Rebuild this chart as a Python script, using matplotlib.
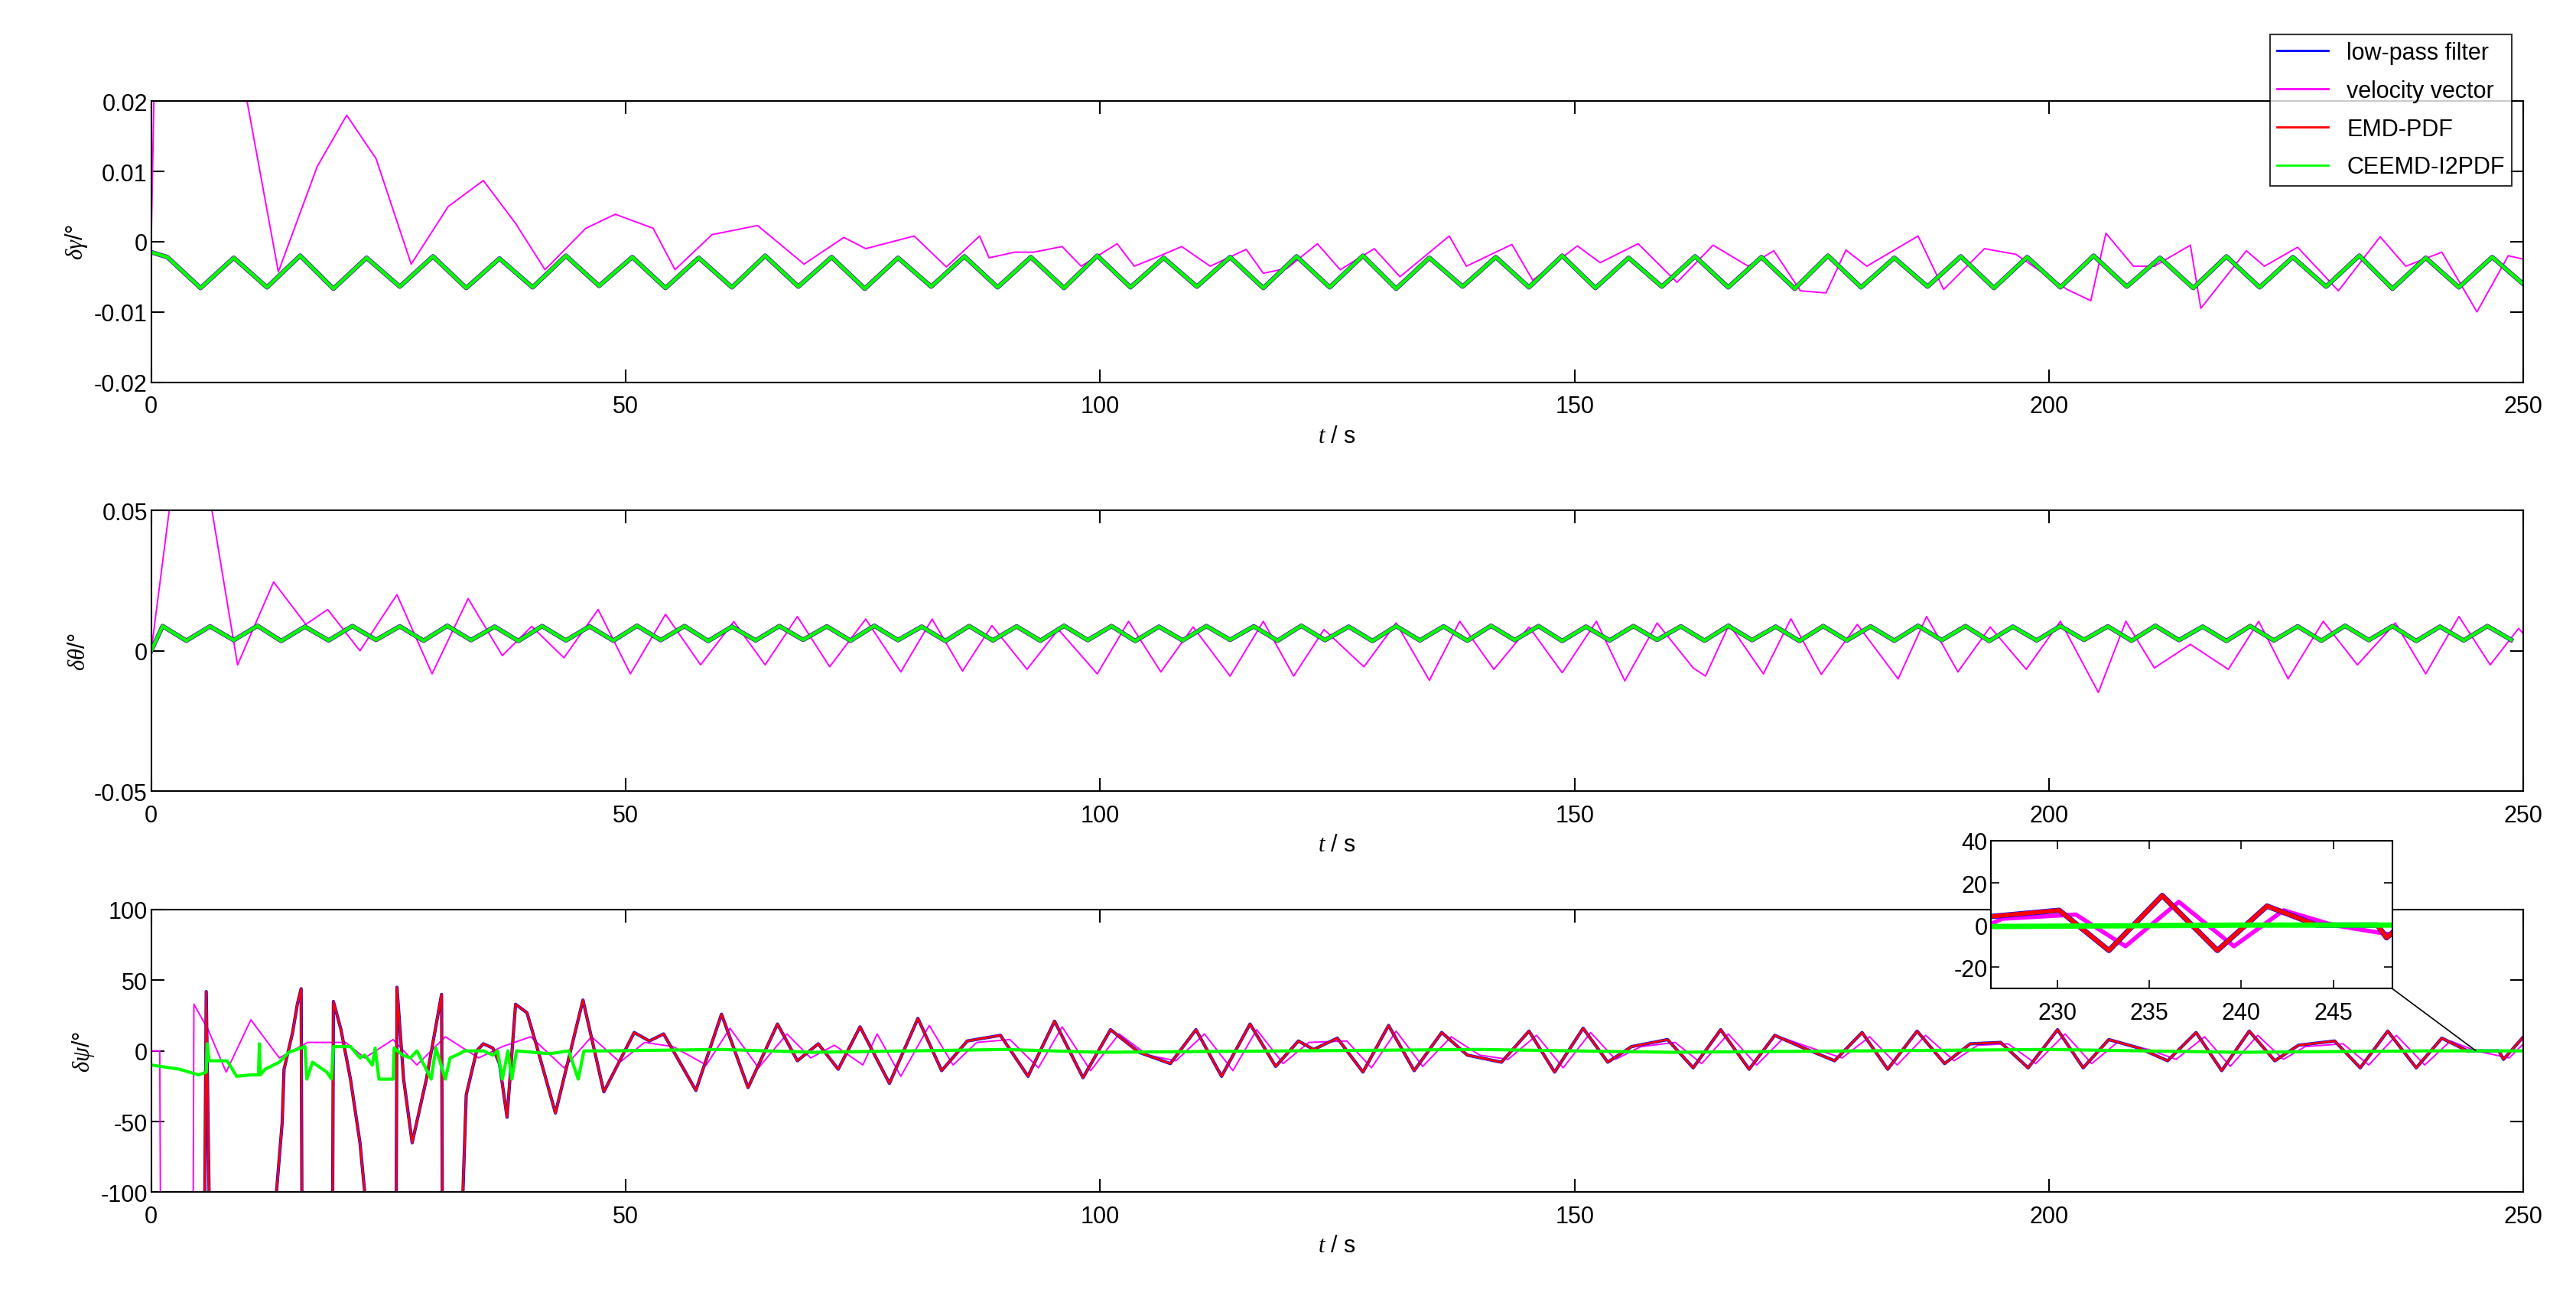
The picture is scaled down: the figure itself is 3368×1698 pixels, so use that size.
import numpy as np
import matplotlib
matplotlib.use("Agg")
import matplotlib.pyplot as plt
from matplotlib.patches import ConnectionPatch

plt.rcParams['font.family'] = ['Liberation Sans', 'DejaVu Sans']
plt.rcParams['mathtext.fontset'] = 'custom'
plt.rcParams['mathtext.it'] = 'Liberation Serif:italic'
plt.rcParams['axes.unicode_minus'] = False

labels = ["low-pass filter", "velocity vector", "EMD-PDF", "CEEMD-I2PDF"]
colors = ["#0000ff", "#ff00ff", "#ff0000", "#00ff00"]

# ---------- panel 1 (delta gamma), values in 1e-3 deg ----------
p1_start_t = 0.0
p1_start_v = -1.5
p1_first_knot = 1.7
p1_step = 3.5
p1_filt = [-2.2, -6.6, -2.3, -6.5, -2.0, -6.7, -2.3, -6.4, -2.1, -6.6, -2.4, -6.5,
           -2.0, -6.3, -2.2, -6.6, -2.3, -6.5, -2.0, -6.4, -2.2, -6.7, -2.3, -6.4,
           -2.1, -6.5, -2.2, -6.6, -2.0, -6.5, -2.3, -6.4, -2.2, -6.6, -2.1, -6.5,
           -2.0, -6.7, -2.3, -6.4, -2.2, -6.5, -2.0, -6.6, -2.3, -6.4, -2.1, -6.5,
           -2.2, -6.7, -2.0, -6.5, -2.3, -6.4, -2.1, -6.6, -2.2, -6.5, -2.0, -6.4,
           -2.3, -6.6, -2.1, -6.5, -2.2, -6.4, -2.0, -6.7, -2.3, -6.5, -2.2, -6.3]
p1_vv_t = [0, 0.7, 5, 10.1, 13.4, 17.5, 20.6, 23.7, 27.4, 31.3, 35, 38.4, 41.5, 45.8,
           48.9, 52.9, 55.2, 59.1, 63.9, 68.8, 73, 75.3, 80.4, 83.8, 87.3, 88.3, 91, 93,
           96, 98, 101.8, 103.6, 106, 108.6, 111.6, 115.4, 117.2, 119.7, 122.9, 125.3,
           128.9, 131.6, 136.8, 138.6, 143.4, 145.6, 150.3, 152.7, 156.7, 160.8, 164.6,
           168.3, 171, 173.8, 176.5, 178.6, 180.8, 186.2, 188.9, 193.2, 196.5, 201.9,
           204.4, 206, 208.9, 211.1, 214.9, 216, 220.8, 222.7, 226.2, 230.5, 234.9,
           237.6, 241.4, 245.1, 248.4, 250]
p1_vv_v = [0, 50, 60, 20, -4.3, 10.7, 18, 11.8, -3.2, 5, 8.7, 2.6, -4, 1.9,
           3.9, 1.9, -4, 1.0, 2.3, -3.2, 0.6, -1.0, 0.8, -3.6, 0.8, -2.3, -1.5, -1.5,
           -0.7, -3.5, -0.3, -3.5, -2.2, -0.7, -3.5, -1.1, -4.5, -3.8, -0.3, -4.0,
           -1.0, -5.0, 0.8, -3.5, -0.4, -5.5, -0.6, -3.0, -0.3, -5.8, -0.5,
           -3.5, -1.3, -7.0, -7.3, -1.2, -3.5, 0.8, -6.8, -1.0, -1.8, -6.8,
           -8.4, 1.2, -3.5, -3.5, -0.5, -9.5, -1.3, -3.5, -0.8, -7.0, 0.7,
           -3.5, -1.5, -10.0, -2.0, -2.5]

# ---------- panel 2 (delta theta), values in 1e-3 deg ----------
p2_first_knot = 1.2
p2_step = 2.5
p2_filt = [8.8, 3.6, 8.7, 3.8, 8.9, 3.5, 8.6, 3.7, 8.8, 3.9, 8.7, 3.6, 8.9, 3.8, 8.6, 3.5,
           8.8, 3.7, 8.7, 3.6, 8.9, 3.8, 8.8, 3.5, 8.6, 3.7, 8.8, 3.9, 8.7, 3.6, 8.9, 3.8,
           8.6, 3.5, 8.8, 3.7, 8.7, 3.6, 8.9, 3.8, 8.8, 3.5, 8.6, 3.7, 8.8, 3.9, 8.7, 3.6,
           8.9, 3.8, 8.6, 3.5, 8.8, 3.7, 8.7, 3.6, 8.9, 3.8, 8.8, 3.5, 8.6, 3.7, 8.8, 3.9,
           8.7, 3.6, 8.9, 3.8, 8.6, 3.5, 8.8, 3.7, 8.7, 3.6, 8.9, 3.8, 8.8, 3.5, 8.6, 3.7,
           8.8, 3.9, 8.7, 3.6, 8.9, 3.8, 8.6, 3.5, 8.8, 3.7, 8.7, 3.6, 8.9, 3.8, 8.8, 3.5,
           8.6, 3.7, 8.8, 3.9]
p2_vv_t = [0, 1.9, 4, 6.4, 9.1, 12.9, 16.3, 18.6, 22, 25.9, 29.6, 33.4, 37, 40.1, 43.5,
           47.1, 50.5, 54.2, 57.9, 61.4, 64.7, 68.1, 71.5, 75.3, 79, 82.3, 85.5, 88.6,
           92.3, 95.6, 99.7, 103, 106.4, 109.8, 113.7, 117.2, 120.4, 123.6, 127.8, 131.2,
           134.7, 137.9, 141.5, 145.2, 148.7, 152.3, 155.3, 158.7, 162.5, 163.8, 166.3,
           169.9, 172.8, 176, 179.8, 184.1, 187.1, 190.4, 193.8, 197.6, 201.2, 205.2,
           208.1, 211.1, 214.9, 218.9, 222.1, 225.2, 228.9, 232.5, 236.5, 239.7, 243.2,
           246.5, 249.5, 250]
p2_vv_v = [0, 50, 65, 50, -5, 24.5, 9.4, 14.7, 0, 20, -8.2, 18.6, -1.7, 8.7, -2.5,
           14.7, -8.2, 13, -5, 10.4, -5, 12.2, -5.7, 11.3, -7.5, 11.3, -7.2, 9,
           -6.6, 7.6, -8.2, 10.5, -7.5, 8.5, -9, 10.5, -9, 7.6, -5.7, 9.9,
           -10.5, 10.5, -6.6, 8.5, -7.8, 10.5, -10.7, 9.9, -6.1, -9, 9.4,
           -8.2, 11.4, -8.4, 9.4, -10, 12.2, -7.5, 8.5, -6.6, 10.5, -14.8,
           10.5, -6.1, 2.3, -6.6, 10.5, -10, 10.5, -5, 9.9, -8.2, 12.2,
           -5, 8, 6]

# ---------- panel 3 (delta psi), deg ----------
p3_filt_t = [0, 5.6, 5.8, 6.2, 13.2, 13.8, 14.0, 14.9, 15.4, 15.8, 15.9, 19.1, 19.2, 20, 21,
             22, 22.5, 23, 25.8, 25.9, 26.6, 27.5, 29, 30.6, 30.7, 32.6, 33.2, 34.3, 35,
             36, 36.7, 37.5, 38.4, 39.6, 40.6, 42.6, 45.5, 47.7, 50.9, 52.5, 54, 57.4,
             60.1, 62.9, 66, 68.1, 70.3, 72.4, 74.7, 77.8, 80.8, 83.3, 86, 89.5, 92.4,
             95.2, 98.2, 101.1, 104.1, 107.4, 110.1, 112.8, 115.8, 118.5, 120.9, 122.5,
             125, 127.7, 130.4, 133.1, 136, 138.7, 142.3, 145.2, 147.9, 150.9, 153.5, 156,
             159.8, 162.5, 165.4, 168.4, 171.1, 173.8, 177.4, 180.3, 183, 186.1, 189,
             191.7, 194.9, 197.8, 200.9, 203.6, 206.3, 209.5, 212.5, 215.5, 218.2, 221.1,
             223.8, 226.3, 230.1, 232.8, 235.7, 238.7, 241.4, 244.1, 247.4, 247.9, 250]
p3_filt_v = [-150, -150, 42, -150, -100, -51, -13, 13, 33, 44, -150, -150, 35, 15, -20,
             -65, -100, -150, -150, 45, -20, -65, -20, 40, -150, -150, -31, 0, 5,
             2, -9, -47, 33, 27, 4, -44, 36, -29, 13, 7, 12, -28,
             26, -26, 19, -7, 5, -13, 17, -23, 23, -14, 7, 11, -18,
             21, -19, 15, -1, -9, 15, -18, 19, -11, 7, 1,
             9, -15, 18, -14, 13, -3, -8, 14, -15, 16, -8, 3,
             8, -12, 15, -13, 11, 3, -7, 13, -13, 14, -9,
             5, 6, -12, 15, -12, 8, 2, -7, 13, -14, 14,
             -7, 4, 7, -12, 14, -12, 9, 0, 0, -6, 10]
p3_vv_t = [0, 0.9, 1.0, 4.4, 4.5, 6, 7.9, 10.5, 13.5, 16.5, 20.5, 22.5, 25.5, 28, 31, 34.5,
           37, 40, 43.5, 46.4, 49.4, 52, 55, 58.5, 61, 64, 67, 69.5, 72, 75, 76.5, 79,
           82, 84.5, 87, 90.5, 93.5, 96, 99, 102, 105, 108, 111, 114, 116.5, 119.3, 122,
           126, 128.6, 131.2, 134, 137, 140, 143, 146, 148.8, 151.7, 154.3, 157, 160.6,
           163.4, 166.2, 169.2, 172, 175, 178.2, 181.1, 184, 187, 190, 192.5, 195.7,
           198.6, 201.7, 204.5, 207.2, 210.5, 213.4, 216.4, 219.1, 222, 224.7, 227, 231,
           233.7, 236.6, 239.6, 242.3, 245, 248.5, 250]
p3_vv_v = [0, 0, -150, -150, 33, 15, -15, 22, -5, 6, 6, -5, 8, -10, 10, -5,
           3, 10, -12, 10, -8, 6, 3, -10, 16, -12, 12, -5, 4, -10, 12, -18,
           18, -10, 6, 8, -12, 17, -14, 12, -3, -7, 12, -14, 15, -9, 6,
           7, -12, 14, -11, 10, -3, -6, 11, -12, 13, -6, 3, 6,
           -9, 12, -10, 9, 2, -5, 10, -10, 11, -7, 4, 5,
           -9, 12, -9, 6, 1, -6, 10, -11, 11, -6, 3, 5,
           -10, 11, -10, 7, 0, -5, 5]
p3_green_t = [0, 1, 3, 5, 5.8, 5.9, 6.1, 8, 9, 10.5, 11.3, 11.4, 11.5, 12, 13.5, 14.5, 16.2,
              16.4, 17, 18.5, 19, 19.2, 21, 22, 22.5, 23.3, 23.6, 24, 25.5, 25.6, 26.5,
              27.3, 28, 29.5, 30, 31, 31.5, 32.5, 33, 35, 36, 36.5, 37, 37.6, 38, 38.5,
              42, 44, 45, 45.6, 48, 60, 70, 80, 90, 100, 120, 140, 160, 180, 200, 220,
              240, 250]
p3_green_v = [-10, -11, -13, -17, -15, 5, -7, -7, -18, -17, -17, 5, -17, -13, -8, -1, 3,
              -20, -8, -15, -20, 3, 3, -5, -3, -10, 2, -20, -20, 2, -3,
              -5, 0, -20, 2, -20, -5, -2, 0, 0, -3, 0, -20, 0, -20, 0,
              -2, 0, -20, 0, 0, 1, -1, 0, 1, -1, 0, 1, -1, 0, 1, -1,
              0, 0]

W, H = 3368, 1699
fig = plt.figure(figsize=(W / 100, H / 100), dpi=100)
FS = 22
left, right = 0.0587, 0.9796
rects = [(0.7054, 0.9216), (0.3906, 0.6068), (0.0822, 0.2996)]
axes = [fig.add_axes([left, b, right - left, t - b]) for b, t in rects]


def knots(first, step, n):
    return first + step * np.arange(n)


t1 = np.concatenate([[p1_start_t], knots(p1_first_knot, p1_step, len(p1_filt))])
v1 = np.concatenate([[p1_start_v], p1_filt]) * 1e-3
t2 = np.concatenate([[0.0], knots(p2_first_knot, p2_step, len(p2_filt))])
v2 = np.concatenate([[0.0], p2_filt]) * 1e-3

ax = axes[0]
ax.plot(p1_vv_t, np.array(p1_vv_v) * 1e-3, color=colors[1], lw=1.4)
ax.plot(t1, v1, color=colors[0], lw=4.2)
ax.plot(t1, v1, color=colors[2], lw=3.4)
ax.plot(t1, v1, color=colors[3], lw=3.2)
ax.set_ylim(-0.02, 0.02)
ax.set_yticks([-0.02, -0.01, 0, 0.01, 0.02])
ax.set_yticklabels(["-0.02", "-0.01", "0", "0.01", "0.02"])
ax.set_ylabel(r"$\delta\gamma$/°", fontsize=FS)

ax = axes[1]
ax.plot(p2_vv_t, np.array(p2_vv_v) * 1e-3, color=colors[1], lw=1.4)
ax.plot(t2, v2, color=colors[0], lw=4.2)
ax.plot(t2, v2, color=colors[2], lw=3.4)
ax.plot(t2, v2, color=colors[3], lw=3.2)
ax.set_ylim(-0.05, 0.05)
ax.set_yticks([-0.05, 0, 0.05])
ax.set_yticklabels(["-0.05", "0", "0.05"])
ax.set_ylabel(r"$\delta\theta$/°", fontsize=FS)

ax = axes[2]
ax.plot(p3_vv_t, p3_vv_v, color=colors[1], lw=1.4)
ax.plot(p3_filt_t, p3_filt_v, color=colors[0], lw=3.0)
ax.plot(p3_filt_t, p3_filt_v, color=colors[2], lw=2.0)
ax.plot(p3_green_t, p3_green_v, color=colors[3], lw=3.0)
ax.set_ylim(-100, 100)
ax.set_yticks([-100, -50, 0, 50, 100])
ax.set_ylabel(r"$\delta\psi$/°", fontsize=FS)

for ax in axes:
    ax.set_xlim(0, 250)
    ax.set_xticks([0, 50, 100, 150, 200, 250])
    ax.tick_params(labelsize=FS, direction='in', length=12, width=1.5, top=True, right=True)
    ax.tick_params(axis='x', pad=12)
    ax.set_xlabel(r"$t$ / s", fontsize=FS, labelpad=6)
    for s in ax.spines.values():
        s.set_linewidth(1.5)

# legend
handles = [plt.Line2D([], [], color=c, lw=2) for c in colors]
leg = axes[0].legend(handles, labels, loc='upper right', bbox_to_anchor=(1.0, 1.28),
                     fontsize=FS, frameon=True, fancybox=False, edgecolor='black',
                     handlelength=2.2, borderpad=0.3, labelspacing=0.65)
leg.get_frame().set_linewidth(1.5)

# inset
ins = fig.add_axes([0.773, 0.2389, 0.9286 - 0.773, 0.3527 - 0.2389])
ins.plot(p3_vv_t, p3_vv_v, color=colors[1], lw=4)
ins.plot(p3_filt_t, p3_filt_v, color=colors[0], lw=5)
ins.plot(p3_filt_t, p3_filt_v, color=colors[2], lw=4)
ins.plot(p3_green_t, p3_green_v, color=colors[3], lw=5)
ins.set_xlim(226.4, 248.2)
ins.set_ylim(-30, 40)
ins.set_xticks([230, 235, 240, 245])
ins.set_yticks([-20, 0, 20, 40])
ins.tick_params(labelsize=FS, direction='in', length=8, width=1.2, top=True, right=True)
ins.tick_params(axis='x', pad=12)
for s in ins.spines.values():
    s.set_linewidth(1.5)

con = ConnectionPatch(xyA=(248.2, -30), coordsA=ins.transData,
                      xyB=(245, 0), coordsB=axes[2].transData,
                      color='black', lw=1.2)
fig.add_artist(con)

fig.savefig("out.png", dpi=100, facecolor='white')
